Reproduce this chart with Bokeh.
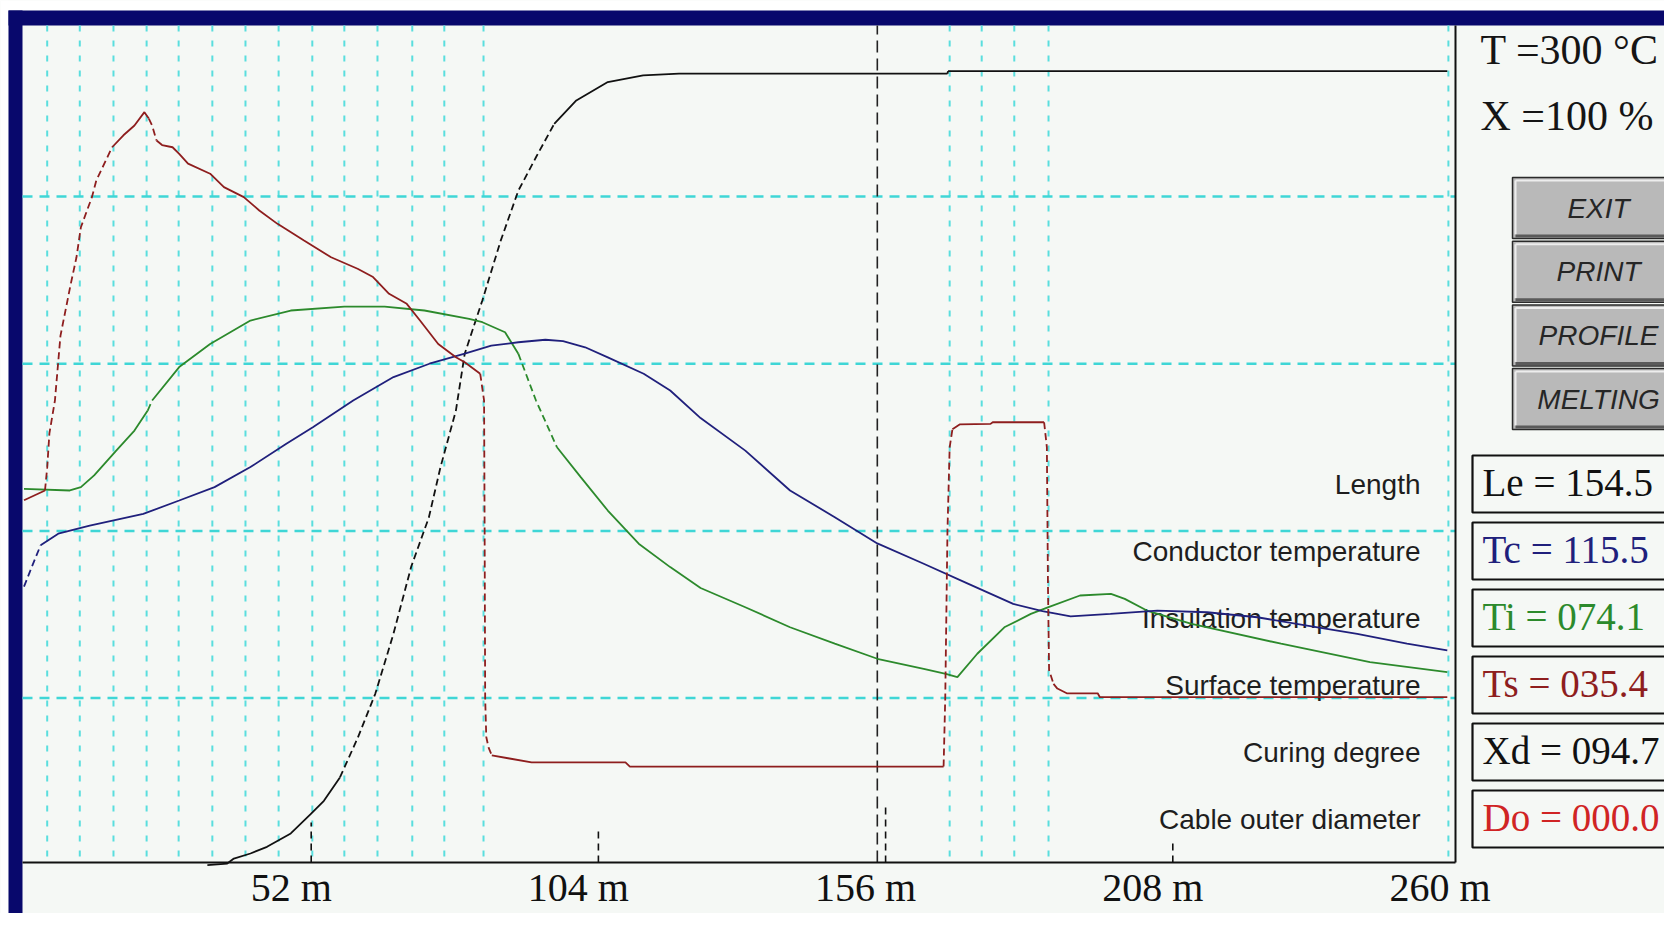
from bokeh.plotting import figure
from bokeh.models import Range1d
from bokeh.core.properties import value
from bokeh.embed import file_html
from bokeh.resources import INLINE

# ------------------------------------------------------------------ data
dist_ticks = [52, 104, 156, 208, 260]
tick_labels = ["52 m", "104 m", "156 m", "208 m", "260 m"]
tick_mark_top = [15.3, 12.5, 21.5, 8.2]          # heights (degC scale) of the dashed tick marks
zone_bounds = [4.2, 10.1, 16.2, 22.2, 28.0, 34.1, 40.1, 46.1, 52.2, 58.0, 64.0,
               70.3, 76.1, 83.2, 167.6, 173.4, 179.3, 185.5, 257.9]
temp_grid = [60, 120, 180, 240]
cursor_len = 154.5

# conductor temperature (blue)
tc_x = [0.0, 1.4, 3.0, 6.2, 11.9, 21.6, 28.1, 34.5, 41.0, 47.5, 52.3, 59.6, 66.9, 73.4,
        79.8, 84.6, 89.5, 94.4, 97.6, 101.6, 105.7, 112.2, 117.0, 122.5, 130.6, 138.7,
        146.8, 154.5, 162.9, 171.0, 179.1, 184.4, 189.5, 196.7, 205.2, 214.2, 223.3,
        232.3, 241.4, 250.4, 257.7]
tc_y = [100.0, 107.0, 114.8, 119.0, 121.9, 126.1, 130.9, 135.7, 142.9, 151.3, 157.2,
        166.8, 175.2, 180.0, 183.6, 186.5, 187.7, 188.6, 188.1, 185.9, 182.3, 176.4,
        170.4, 160.5, 148.8, 134.5, 124.9, 115.5, 108.2, 101.0, 93.8, 91.2, 89.3, 90.2,
        91.4, 90.8, 89.0, 86.0, 83.0, 79.5, 77.1]

# insulation temperature (green)
ti_x = [0.0, 8.3, 10.3, 12.7, 16.7, 20.0, 22.4, 23.2, 28.1, 33.7, 41.0, 48.3, 58.0, 65.3,
        72.5, 80.6, 83.0, 87.1, 89.5, 92.7, 96.5, 100.8, 105.7, 111.3, 117.0, 122.5,
        130.6, 138.7, 146.8, 154.5, 162.9, 166.9, 169.0, 172.6, 177.5, 182.3, 185.5,
        191.2, 196.8, 199.3, 203.3, 211.4, 227.6, 243.7, 257.7]
ti_y = [135.1, 134.5, 135.7, 139.9, 148.8, 156.0, 163.2, 166.8, 178.8, 187.1, 195.5,
        199.1, 200.5, 200.5, 199.1, 196.1, 194.9, 191.3, 183.6, 166.8, 150.0, 139.3,
        127.3, 115.4, 107.0, 99.5, 92.6, 85.4, 79.5, 74.1, 70.5, 68.7, 67.5, 75.9, 85.4,
        90.2, 92.6, 96.8, 97.4, 95.6, 91.4, 86.6, 79.5, 72.9, 69.3]

# surface temperature (dark red)
ts_x = [0.0, 3.8, 4.2, 4.6, 5.6, 6.6, 8.4, 9.5, 10.3, 12.3, 13.1, 15.95, 18.0, 20.0,
        21.8, 22.6, 23.2, 24.0, 25.0, 26.9, 28.1, 29.7, 33.7, 36.2, 39.8, 42.6, 45.9,
        50.7, 55.6, 60.4, 63.2, 66.1, 69.3, 71.7, 75.0, 78.2, 79.8, 82.6, 83.3, 83.4,
        83.5, 83.7, 84.1, 84.7, 87.9, 91.9, 108.9, 109.7, 166.5, 166.8, 167.2, 167.6,
        168.1, 169.4, 175.0, 175.4, 184.7, 185.2, 185.4, 185.6, 186.4, 187.1, 188.8,
        194.4, 194.8, 257.7]
ts_y = [131.0, 134.5, 142.7, 155.0, 166.8, 190.0, 208.0, 218.2, 229.0, 239.8, 245.8,
        257.7, 262.0, 265.5, 270.3, 268.0, 265.5, 260.1, 258.5, 257.7, 255.3, 251.8,
        248.2, 243.4, 239.8, 235.0, 230.2, 224.2, 218.2, 214.1, 211.1, 205.1, 201.5,
        195.5, 187.1, 182.3, 180.5, 176.4, 166.8, 120.0, 60.0, 46.0, 42.3, 39.4, 38.3,
        36.9, 36.9, 35.4, 35.4, 60.0, 120.0, 150.0, 156.5, 158.2, 158.4, 159.0, 159.0,
        150.0, 100.0, 70.0, 65.1, 63.4, 61.7, 61.7, 60.3, 60.3]

# curing degree, % (black)
xd_x = [33.2, 36.8, 38.0, 41.0, 44.0, 48.3, 51.9, 54.3, 57.2, 60.4, 63.6, 66.9, 70.1,
        73.3, 75.4, 78.2, 79.8, 83.0, 86.3, 89.5, 92.7, 96.0, 100.0, 105.7, 112.1,
        118.6, 167.2, 167.3, 257.7]
xd_y = [0.0, 0.2, 0.8, 1.4, 2.2, 3.8, 6.1, 7.7, 10.5, 15.2, 20.5, 27.7, 35.7, 41.6,
        47.6, 54.4, 61.2, 67.6, 74.7, 80.7, 84.7, 88.7, 91.5, 93.7, 94.5, 94.7, 94.7,
        95.0, 95.0]

readout_names = ["Le", "Tc", "Ti", "Ts", "Xd", "Do"]
readout_values = [154.5, 115.5, 74.1, 35.4, 94.7, 0.0]
curve_labels = ["Length", "Conductor temperature", "Insulation temperature",
                "Surface temperature", "Curing degree", "Cable outer diameter"]
set_temp = 300
set_cure = 100
buttons = ["EXIT", "PRINT", "PROFILE", "MELTING"]

# ------------------------------------------------------------------ layout / style
NAVY = "#08086C"
BG = "#F5F8F5"
CYAN_H = "#3FD6D6"
CYAN_V = "#5ADEDE"
C_TC, C_TI, C_TS, C_XD, C_DO = "#20207C", "#2C8A2C", "#8E1E1E", "#111111", "#D02424"
readout_colors = [C_XD, C_TC, C_TI, C_TS, C_XD, C_DO]

CX0, CX1, CY0, CY1 = 0, 1664, 0, 913        # canvas in picture pixels
PL, PR, PT, PB = 22, 1455, 25, 862          # plot frame in picture pixels
X0PX, SX = 23.5, 1436 / 260                  # metres -> px
Y0PX, SY = 864.7, 2.786                      # degC -> px (upward)

W, H = CX1 - CX0, CY1 - CY0

p = figure(width=W, height=H, output_backend="svg", toolbar_location=None,
           x_range=Range1d(CX0, CX1), y_range=Range1d(CY1, CY0),
           x_axis_location=None, y_axis_location=None, min_border=0, title=None,
           background_fill_color=BG, border_fill_color=BG, outline_line_color=None)
p.xgrid.visible = False
p.ygrid.visible = False
p.extra_x_ranges = {"m": Range1d((CX0 - X0PX) / SX, (CX1 - X0PX) / SX)}
p.extra_y_ranges = {"T": Range1d((Y0PX - CY1) / SY, (Y0PX - CY0) / SY),
                    "pct": Range1d((Y0PX - CY1) / SY / 3, (Y0PX - CY0) / SY / 3)}

T_lo, T_hi = (Y0PX - PB) / SY, (Y0PX - PT) / SY

# window edges: white margin, navy frame
p.quad(left=[CX0, CX0], right=[CX1, 8], top=[CY0, CY0], bottom=[10, CY1],
       fill_color="white", line_color=None)
p.quad(left=[8, 8], right=[CX1, PL], top=[10, 10], bottom=[PT, CY1],
       fill_color=NAVY, line_color=None)

# grid
p.segment(x0=zone_bounds, x1=zone_bounds, y0=[PT] * len(zone_bounds), y1=[PB] * len(zone_bounds),
          x_range_name="m", line_color=CYAN_V, line_width=2, line_dash="6 9")
p.segment(x0=[PL] * len(temp_grid), x1=[PR] * len(temp_grid), y0=temp_grid, y1=temp_grid,
          y_range_name="T", line_color=CYAN_H, line_width=2.5, line_dash="10 7")

# tick marks and cursor
p.segment(x0=dist_ticks[:4], x1=dist_ticks[:4], y0=[T_lo] * 4, y1=tick_mark_top,
          x_range_name="m", y_range_name="T", line_color="#111111", line_width=1.6,
          line_dash="7 5")
p.segment(x0=[cursor_len], x1=[cursor_len], y0=[T_lo], y1=[T_hi], x_range_name="m",
          y_range_name="T", line_color="#222222", line_width=1.6, line_dash="12 6")

# axis line and right border
p.segment(x0=[PL, PR], x1=[PR, PR], y0=[PB, PT], y1=[PB, PB], line_color="#111111", line_width=2)

# tick labels
p.text(x=dist_ticks, y=[887] * len(dist_ticks), text=tick_labels, x_range_name="m",
       x_offset=-20, text_align="center", text_baseline="middle",
       text_font=value("Liberation Serif"), text_font_size="40px", text_color="#111111")

# right panel: readout boxes
BOX_TOP, BOX_PITCH, BOX_H = 455, 67, 57
box_tops = [BOX_TOP + BOX_PITCH * i for i in range(len(readout_names))]
box_bots = [t + BOX_H for t in box_tops]
box_mid = [(a + b) / 2 for a, b in zip(box_tops, box_bots)]
p.quad(left=[1472] * 6, right=[1700] * 6, top=box_tops, bottom=box_bots,
       fill_color=BG, line_color="#111111", line_width=2.2)
p.text(x=[1482] * 6, y=[m - 2 for m in box_mid],
       text=[f"{n} = {v:05.1f}" for n, v in zip(readout_names, readout_values)],
       text_color=readout_colors, text_align="left", text_baseline="middle",
       text_font=value("Liberation Serif"), text_font_size="39px")

# curve name labels (drawn under the curves)
p.text(x=[1420] * 6, y=box_mid, text=curve_labels, text_align="right", text_baseline="middle",
       text_font=value("Liberation Sans"), text_font_size="28px", text_color="#1E1E1E")

# set-point texts
p.text(x=[1480, 1480], y=[49, 115], text=[f"T ={set_temp} \u00b0C", f"X ={set_cure} %"],
       text_align="left", text_baseline="middle", text_font=value("Liberation Serif"),
       text_font_size="42px", text_color="#151515")

# buttons
BT_TOP, BT_PITCH, BT_H = 177, 63.7, 61
bt_tops = [BT_TOP + BT_PITCH * i for i in range(len(buttons))]
bt_bots = [t + BT_H for t in bt_tops]
p.quad(left=[1512] * 4, right=[1700] * 4, top=bt_tops, bottom=bt_bots,
       fill_color="#B9B9B9", line_color="#2A2A2A", line_width=1.5)
p.segment(x0=[1515] * 4, x1=[1700] * 4, y0=[t + 3 for t in bt_tops], y1=[t + 3 for t in bt_tops],
          line_color="#EDEDED", line_width=2)
p.segment(x0=[1515] * 4, x1=[1515] * 4, y0=[t + 3 for t in bt_tops], y1=[b - 4 for b in bt_bots],
          line_color="#EDEDED", line_width=2)
p.segment(x0=[1515] * 4, x1=[1700] * 4, y0=[b - 2.5 for b in bt_bots], y1=[b - 2.5 for b in bt_bots],
          line_color="#5A5A5A", line_width=3)
p.text(x=[1598] * 4, y=[(a + b) / 2 for a, b in zip(bt_tops, bt_bots)], text=buttons,
       text_align="center", text_baseline="middle", text_font=value("Liberation Sans"),
       text_font_style="italic", text_font_size="28px", text_color="#262626")


# curves: steep stretches are drawn dashed, as on the original screen
def split_runs(xs, ys, ky, thresh=1.8):
    runs = {True: ([], []), False: ([], [])}
    kind, rx, ry = None, [], []
    for i in range(len(xs) - 1):
        dxp = abs(xs[i + 1] - xs[i]) * SX
        dyp = abs(ys[i + 1] - ys[i]) * ky
        steep = dyp > thresh * max(dxp, 1e-9)
        if steep != kind:
            if rx:
                runs[kind][0].append(rx)
                runs[kind][1].append(ry)
            kind, rx, ry = steep, [xs[i]], [ys[i]]
        rx.append(xs[i + 1])
        ry.append(ys[i + 1])
    if rx:
        runs[kind][0].append(rx)
        runs[kind][1].append(ry)
    return runs


for xs, ys, col, yr, ky in [(xd_x, xd_y, C_XD, "pct", SY * 3),
                            (ti_x, ti_y, C_TI, "T", SY),
                            (tc_x, tc_y, C_TC, "T", SY),
                            (ts_x, ts_y, C_TS, "T", SY)]:
    r = split_runs(xs, ys, ky)
    if r[False][0]:
        p.multi_line(xs=r[False][0], ys=r[False][1], x_range_name="m", y_range_name=yr,
                     line_color=col, line_width=1.8)
    if r[True][0]:
        p.multi_line(xs=r[True][0], ys=r[True][1], x_range_name="m", y_range_name=yr,
                     line_color=col, line_width=1.8, line_dash="7 4")

open("out.html", "w").write(file_html(p, INLINE))
